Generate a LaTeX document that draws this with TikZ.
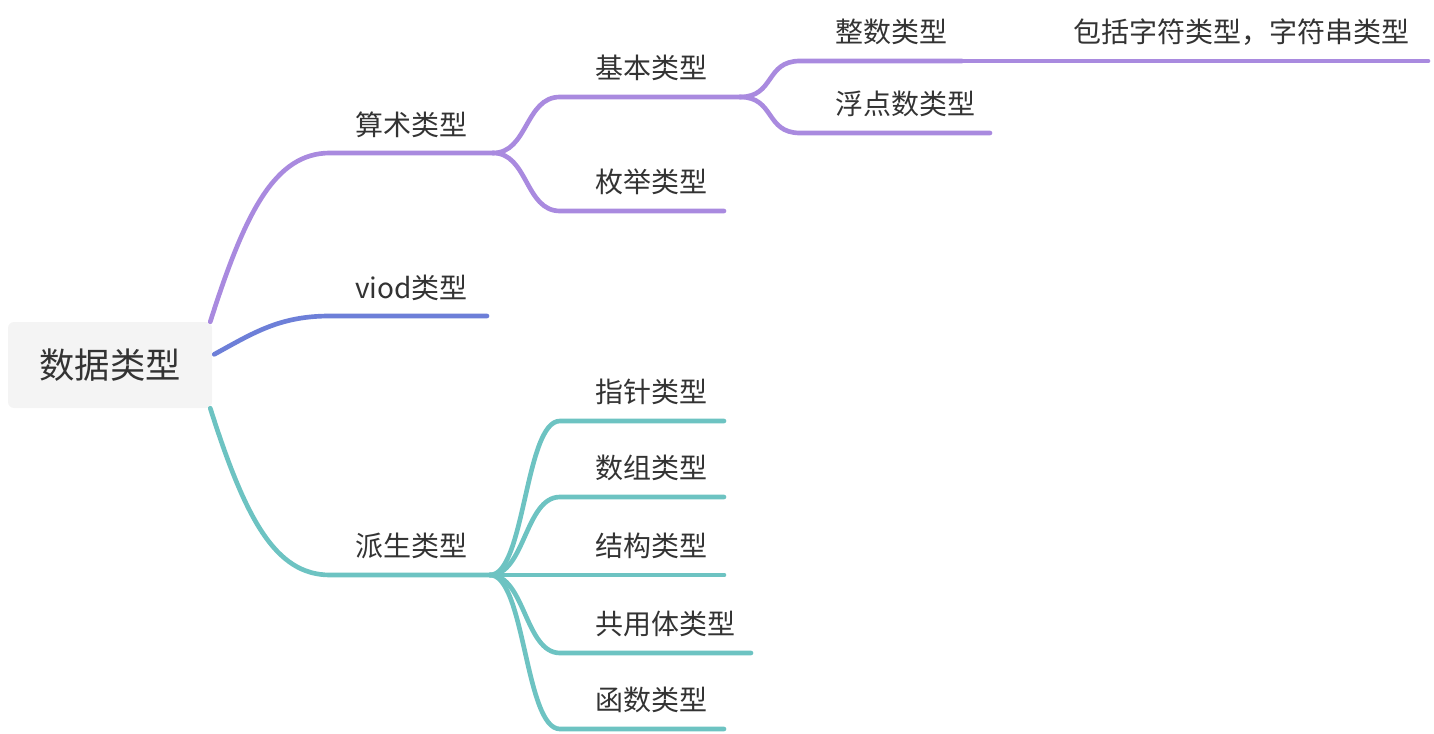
\documentclass[tikz,border=0pt]{standalone}
\usepackage{fontspec}
\setmainfont{Noto Sans CJK SC}
\usetikzlibrary{positioning}

\definecolor{purp}{HTML}{A98ADF}
\definecolor{blu}{HTML}{6D7FD8}
\definecolor{teal}{HTML}{6DC3C2}
\definecolor{txt}{HTML}{333333}
\definecolor{rootbg}{HTML}{F4F4F4}

\begin{document}
\begin{tikzpicture}[x=0.75pt,y=-0.75pt,
  root/.style={fill=rootbg,rounded corners=4.5pt,minimum width=153pt,minimum height=64.5pt,
    text=txt,font=\fontsize{26.5}{30}\selectfont},
  topic/.style={anchor=west,inner sep=0pt,text=txt,font=\fontsize{21}{25}\selectfont},
  branch/.style={line width=3.5pt,line cap=round}]
  \useasboundingbox (0,0) rectangle (1434,734);

  \node[root] (data) at (110,365) {数据类型};

  % first level
  \node[topic] (arith)   at (355,125) {算术类型};
  \node[topic] (viod)    at (355,288) {viod类型};
  \node[topic] (derived) at (355,546) {派生类型};
  \coordinate (arith-s) at (330,153);   \coordinate (arith-e) at (493,153);
  \coordinate (viod-s) at (330,316);    \coordinate (viod-e) at (487,316);
  \coordinate (derived-s) at (330,575); \coordinate (derived-e) at (490,575);

  % arithmetic types
  \node[topic] (basic) at (595,68)  {基本类型};
  \node[topic] (enum)  at (595,182) {枚举类型};
  \node[topic] (int)   at (835,32)  {整数类型};
  \node[topic] (float) at (835,104) {浮点数类型};
  \node[topic] (note)  at (1073,32) {包括字符类型，字符串类型};
  \coordinate (basic-s) at (560,97);  \coordinate (basic-e) at (740,97);
  \coordinate (enum-s) at (560,211);  \coordinate (enum-e) at (724,211);
  \coordinate (int-s) at (800,61);    \coordinate (int-e) at (962,61);
  \coordinate (float-s) at (800,133); \coordinate (float-e) at (990,133);
  \coordinate (note-e) at (1428,61);

  % derived types
  \node[topic] (ptr)    at (595,392) {指针类型};
  \node[topic] (arr)    at (595,468) {数组类型};
  \node[topic] (struct) at (595,546) {结构类型};
  \node[topic] (union)  at (595,624) {共用体类型};
  \node[topic] (func)   at (595,700) {函数类型};
  \coordinate (ptr-s) at (560,421);    \coordinate (ptr-e) at (724,421);
  \coordinate (arr-s) at (560,497);    \coordinate (arr-e) at (724,497);
  \coordinate (struct-s) at (560,575); \coordinate (struct-e) at (724,575);
  \coordinate (union-s) at (560,653);  \coordinate (union-e) at (751,653);
  \coordinate (func-s) at (560,729);   \coordinate (func-e) at (724,729);

  \draw[branch,purp] ([xshift=-1.5pt]data.north east) .. controls +(35,-110) and +(-55,0) .. (arith-s) -- (arith-e);
  \draw[branch,blu]  ([xshift=1.5pt,yshift=8pt]data.east) .. controls +(40,-22) and +(-50,0) .. (viod-s) -- (viod-e);
  \draw[branch,teal] ([xshift=-1.5pt]data.south east) .. controls +(35,110) and +(-55,0) .. (derived-s) -- (derived-e);

  \foreach \c in {basic,enum}
    \draw[branch,purp] (arith-e) .. controls +(35,0) and +(-35,0) .. (\c-s) -- (\c-e);
  \foreach \c in {int,float}
    \draw[branch,purp] (basic-e) .. controls +(35,0) and +(-35,0) .. (\c-s) -- (\c-e);
  \draw[branch,purp] (int-e) -- (note-e);

  \foreach \c in {ptr,arr,struct,union,func}
    \draw[branch,teal] (derived-e) .. controls +(35,0) and +(-35,0) .. (\c-s) -- (\c-e);
\end{tikzpicture}
\end{document}
